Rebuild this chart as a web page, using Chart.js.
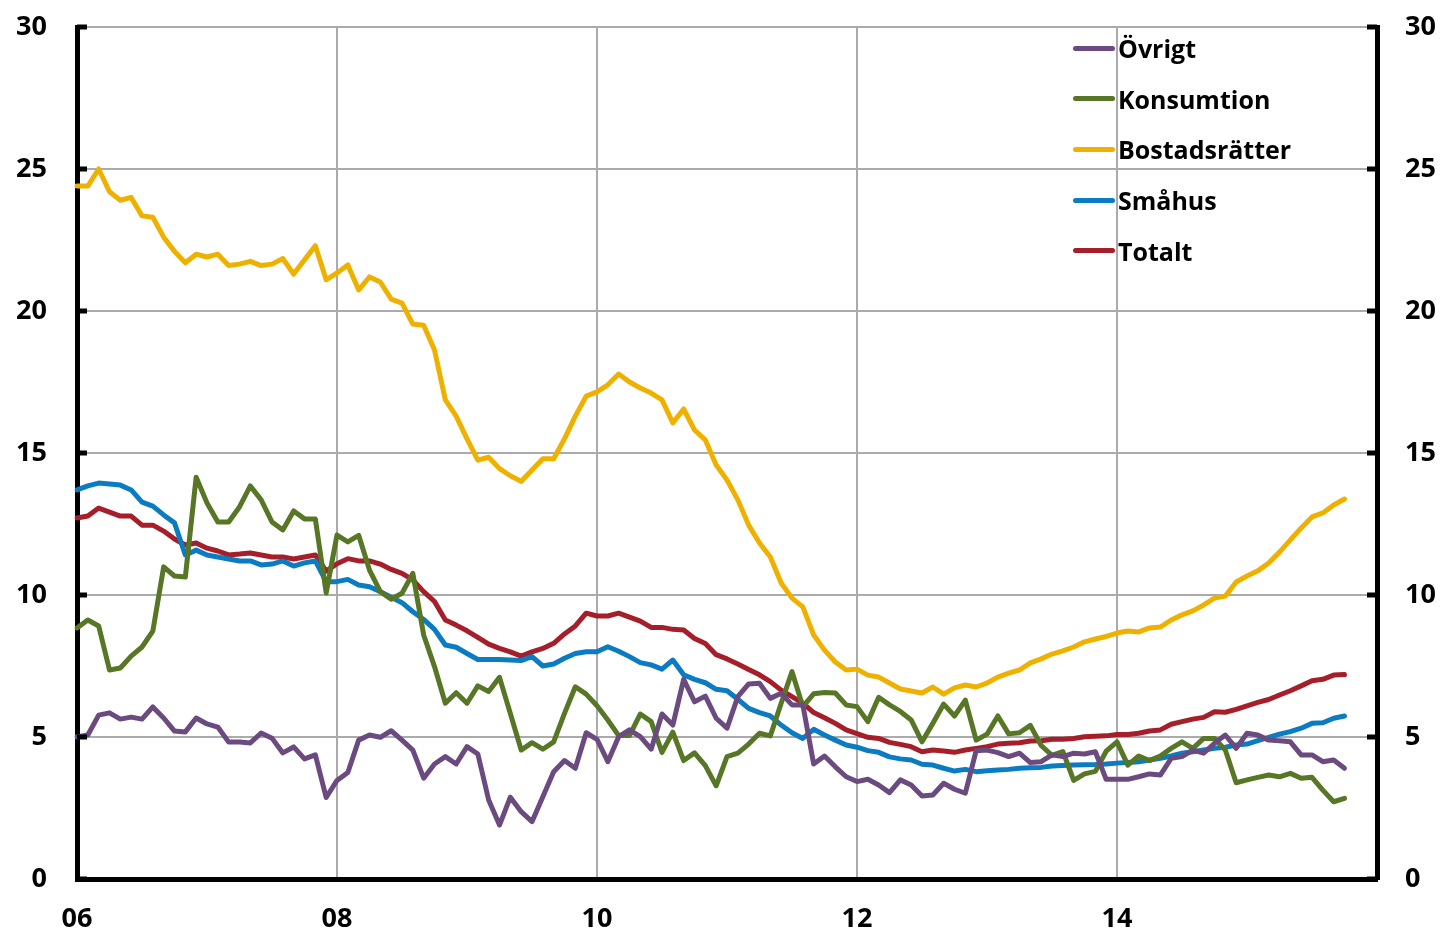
<!DOCTYPE html>
<html>
<head>
<meta charset="utf-8">
<script src="https://cdn.jsdelivr.net/npm/chart.js@4/dist/chart.umd.min.js"></script>
<style>
  body { margin: 0; background: #fff; }
  #wrap { position: relative; width: 1443px; height: 932px; }
  #legend { position: absolute; left: 1073px; top: 23px; font-family: "Open Sans", sans-serif; font-weight: 700; font-size: 25px; color: #000; }
  #legend .row { display: flex; align-items: center; height: 50.6px; }
  #legend .swatch { width: 42px; height: 5px; border-radius: 3px; margin-right: 3px; }
</style>
</head>
<body>
<div id="wrap">
  <canvas id="chart" width="1443" height="932"></canvas>
  <div id="legend"></div>
</div>
<script>
// monthly, Jan 2006 .. Oct 2015 (axis runs to Jan 2016)
const tickLabels = ['06', '08', '10', '12', '14'];
const months = [];
for (let y = 2006; y <= 2016; y++) {
    for (let m = 1; m <= 12; m++) {
        if (months.length < 121) months.push(y + '-' + String(m).padStart(2, '0'));
    }
}

const ovrigt = [
    5.0, 5.07, 5.77, 5.85, 5.63, 5.7, 5.63, 6.06, 5.67, 5.21, 5.18, 5.67,
    5.46, 5.35, 4.82, 4.82, 4.79, 5.14, 4.96, 4.44, 4.65, 4.23, 4.37, 2.87,
    3.47, 3.75, 4.89, 5.07, 4.99, 5.22, 4.89, 4.54, 3.55, 4.05, 4.31, 4.05,
    4.66, 4.4, 2.78, 1.9, 2.88, 2.37, 2.02, 2.9, 3.78, 4.17, 3.9, 5.15,
    4.92, 4.13, 5.01, 5.25, 5.01, 4.57, 5.81, 5.42, 7.03, 6.24, 6.44, 5.66,
    5.31, 6.42, 6.87, 6.89, 6.36, 6.54, 6.13, 6.13, 4.05, 4.33, 3.95, 3.6,
    3.43, 3.51, 3.31, 3.04, 3.49, 3.31, 2.92, 2.96, 3.37, 3.16, 3.02, 4.52,
    4.54, 4.45, 4.31, 4.43, 4.1, 4.13, 4.37, 4.31, 4.43, 4.4, 4.48, 3.51,
    3.51, 3.51, 3.6, 3.7, 3.66, 4.25, 4.31, 4.54, 4.43, 4.78, 5.07, 4.6,
    5.13, 5.07, 4.89, 4.87, 4.83, 4.37, 4.37, 4.13, 4.19, 3.9
];
const konsumtion = [
    8.84, 9.12, 8.91, 7.36, 7.43, 7.85, 8.17, 8.73, 10.99, 10.67, 10.63, 14.15,
    13.24, 12.57, 12.57, 13.1, 13.84, 13.35, 12.57, 12.29, 12.96, 12.68, 12.68, 10.07,
    12.11, 11.87, 12.1, 10.88, 10.12, 9.85, 10.06, 10.76, 8.59, 7.48, 6.19, 6.56,
    6.19, 6.8, 6.6, 7.1, 5.83, 4.54, 4.8, 4.57, 4.83, 5.83, 6.77, 6.51,
    6.1, 5.6, 5.05, 5.05, 5.81, 5.54, 4.46, 5.17, 4.17, 4.44, 3.99, 3.28,
    4.31, 4.43, 4.75, 5.13, 5.04, 6.19, 7.3, 6.07, 6.52, 6.57, 6.55, 6.13,
    6.07, 5.54, 6.4, 6.13, 5.9, 5.6, 4.83, 5.48, 6.16, 5.74, 6.3, 4.89,
    5.1, 5.74, 5.11, 5.15, 5.41, 4.7, 4.35, 4.49, 3.47, 3.7, 3.79, 4.5,
    4.83, 4.01, 4.33, 4.17, 4.33, 4.6, 4.83, 4.6, 4.95, 4.95, 4.54, 3.39,
    3.49, 3.58, 3.66, 3.6, 3.72, 3.55, 3.58, 3.13, 2.72, 2.84
];
const bostadsratter = [
    24.4, 24.4, 25.0, 24.2, 23.9, 24.0, 23.35, 23.3, 22.6, 22.1, 21.7, 22.0,
    21.9, 22.0, 21.6, 21.65, 21.75, 21.6, 21.65, 21.85, 21.3, 21.8, 22.3, 21.1,
    21.34, 21.62, 20.74, 21.2, 21.02, 20.42, 20.28, 19.54, 19.5, 18.63, 16.87, 16.3,
    15.5, 14.75, 14.85, 14.45, 14.2, 14.0, 14.4, 14.8, 14.8, 15.5, 16.3, 17.0,
    17.15, 17.4, 17.78, 17.5, 17.29, 17.11, 16.87, 16.06, 16.55, 15.81, 15.46, 14.58,
    14.05, 13.35, 12.46, 11.83, 11.34, 10.42, 9.89, 9.58, 8.59, 8.06, 7.64, 7.36,
    7.39, 7.18, 7.11, 6.9, 6.69, 6.62, 6.55, 6.76, 6.51, 6.73, 6.83, 6.76,
    6.9, 7.11, 7.25, 7.36, 7.61, 7.75, 7.92, 8.03, 8.17, 8.35, 8.45, 8.54,
    8.66, 8.73, 8.7, 8.84, 8.87, 9.12, 9.3, 9.44, 9.65, 9.89, 9.96, 10.46,
    10.67, 10.85, 11.13, 11.51, 11.94, 12.36, 12.75, 12.89, 13.17, 13.38
];
const smahus = [
    13.7, 13.84, 13.94, 13.91, 13.87, 13.7, 13.27, 13.13, 12.82, 12.54, 11.41, 11.58,
    11.41, 11.34, 11.27, 11.2, 11.2, 11.06, 11.09, 11.2, 11.02, 11.13, 11.2, 10.47,
    10.47, 10.55, 10.35, 10.29, 10.12, 9.92, 9.73, 9.41, 9.14, 8.79, 8.24, 8.16,
    7.94, 7.73, 7.73, 7.73, 7.71, 7.69, 7.83, 7.5, 7.57, 7.77, 7.94, 8.0,
    8.0, 8.18, 8.02, 7.83, 7.62, 7.54, 7.39, 7.71, 7.19, 7.03, 6.91, 6.68,
    6.63, 6.33, 6.01, 5.86, 5.74, 5.42, 5.15, 4.95, 5.27, 5.07, 4.89, 4.72,
    4.64, 4.52, 4.46, 4.3, 4.23, 4.19, 4.04, 4.01, 3.9, 3.8, 3.86, 3.78,
    3.81, 3.84, 3.86, 3.9, 3.92, 3.93, 3.98, 4.0, 4.01, 4.02, 4.03, 4.05,
    4.08, 4.1, 4.13, 4.19, 4.25, 4.33, 4.43, 4.48, 4.54, 4.6, 4.64, 4.72,
    4.75, 4.87, 4.99, 5.1, 5.19, 5.31, 5.48, 5.5, 5.66, 5.74
];
const totalt = [
    12.71, 12.78, 13.06, 12.92, 12.78, 12.78, 12.46, 12.46, 12.25, 11.97, 11.76, 11.83,
    11.65, 11.55, 11.41, 11.44, 11.48, 11.41, 11.34, 11.34, 11.27, 11.34, 11.41, 10.84,
    11.1, 11.28, 11.2, 11.2, 11.09, 10.9, 10.76, 10.53, 10.12, 9.77, 9.12, 8.94,
    8.74, 8.51, 8.27, 8.12, 8.0, 7.85, 8.0, 8.12, 8.3, 8.63, 8.91, 9.36,
    9.26, 9.26, 9.36, 9.22, 9.08, 8.86, 8.86, 8.79, 8.77, 8.47, 8.29, 7.9,
    7.75, 7.57, 7.38, 7.19, 6.95, 6.65, 6.42, 6.19, 5.86, 5.68, 5.48, 5.25,
    5.12, 4.99, 4.95, 4.81, 4.74, 4.66, 4.48, 4.54, 4.51, 4.46, 4.54, 4.6,
    4.66, 4.75, 4.78, 4.8, 4.86, 4.87, 4.92, 4.92, 4.95, 5.01, 5.03, 5.04,
    5.09, 5.09, 5.13, 5.21, 5.25, 5.45, 5.54, 5.63, 5.69, 5.89, 5.87, 5.97,
    6.1, 6.22, 6.32, 6.48, 6.63, 6.8, 6.98, 7.03, 7.18, 7.2
];

const series = [
    { label: 'Övrigt', data: ovrigt, color: '#6B4B7F' },
    { label: 'Konsumtion', data: konsumtion, color: '#577626' },
    { label: 'Bostadsrätter', data: bostadsratter, color: '#EFB100' },
    { label: 'Småhus', data: smahus, color: '#0B7CC1' },
    { label: 'Totalt', data: totalt, color: '#A61E2A' }
];

const tickFont = { family: 'Open Sans', size: 27, weight: 'bold' };

// short black tick marks pointing into the plot on both value axes
const innerTicks = {
    id: 'innerTicks',
    afterDatasetsDraw(chart) {
        const ctx = chart.ctx;
        const area = chart.chartArea;
        const y = chart.scales.y;
        ctx.save();
        ctx.strokeStyle = '#000';
        ctx.lineWidth = 5;
        y.ticks.forEach(t => {
            const py = y.getPixelForValue(t.value);
            ctx.beginPath();
            ctx.moveTo(area.left, py);
            ctx.lineTo(area.left + 10, py);
            ctx.moveTo(area.right - 10, py);
            ctx.lineTo(area.right, py);
            ctx.stroke();
        });
        ctx.restore();
    }
};

function fixY(width) {
    return s => {
        s.width = width;
        s.paddingTop = 0;
        s.paddingBottom = 0;
    };
}

const chart = new Chart(document.getElementById('chart'), {
    type: 'line',
    data: {
        labels: months,
        datasets: series.map(s => ({
            label: s.label,
            data: s.data,
            borderColor: s.color,
            backgroundColor: s.color,
            borderWidth: 5,
            borderJoinStyle: 'round',
            borderCapStyle: 'round',
            pointRadius: 0,
            tension: 0,
            yAxisID: 'y'
        }))
    },
    options: {
        responsive: false,
        animation: false,
        devicePixelRatio: 1,
        layout: { padding: { top: 27, bottom: 0, left: 0, right: 0 } },
        plugins: {
            legend: { display: false },
            tooltip: { enabled: false }
        },
        scales: {
            x: {
                type: 'category',
                afterFit: s => { s.height = 53; s.paddingLeft = 0; s.paddingRight = 0; },
                border: { color: '#000', width: 5 },
                grid: {
                    drawTicks: false,
                    lineWidth: 2,
                    color: c => (c.index % 24 === 0 && c.index > 0 && c.index < 120) ? '#ABABAB' : 'rgba(0,0,0,0)'
                },
                ticks: {
                    autoSkip: false,
                    maxRotation: 0,
                    minRotation: 0,
                    padding: 24,
                    color: '#000',
                    font: tickFont,
                    callback: (v, i) => (i % 24 === 0 && i < 120) ? tickLabels[i / 24] : ''
                }
            },
            y: {
                position: 'left',
                min: 0,
                max: 30,
                afterFit: fixY(77),
                border: { color: '#000', width: 5 },
                grid: { color: '#ABABAB', lineWidth: 2, drawTicks: false },
                ticks: { stepSize: 5, padding: 30, color: '#000', font: tickFont }
            },
            y2: {
                position: 'right',
                min: 0,
                max: 30,
                afterFit: fixY(66),
                border: { color: '#000', width: 5 },
                grid: { display: false, drawTicks: false },
                ticks: { stepSize: 5, padding: 28, color: '#000', font: tickFont }
            }
        }
    },
    plugins: [innerTicks]
});

// legend inside the plot, top right
const legendEl = document.getElementById('legend');
chart.data.datasets.forEach(ds => {
    const row = document.createElement('div');
    row.className = 'row';
    const sw = document.createElement('span');
    sw.className = 'swatch';
    sw.style.background = ds.borderColor;
    const txt = document.createElement('span');
    txt.textContent = ds.label;
    row.appendChild(sw);
    row.appendChild(txt);
    legendEl.appendChild(row);
});
</script>
</body>
</html>
